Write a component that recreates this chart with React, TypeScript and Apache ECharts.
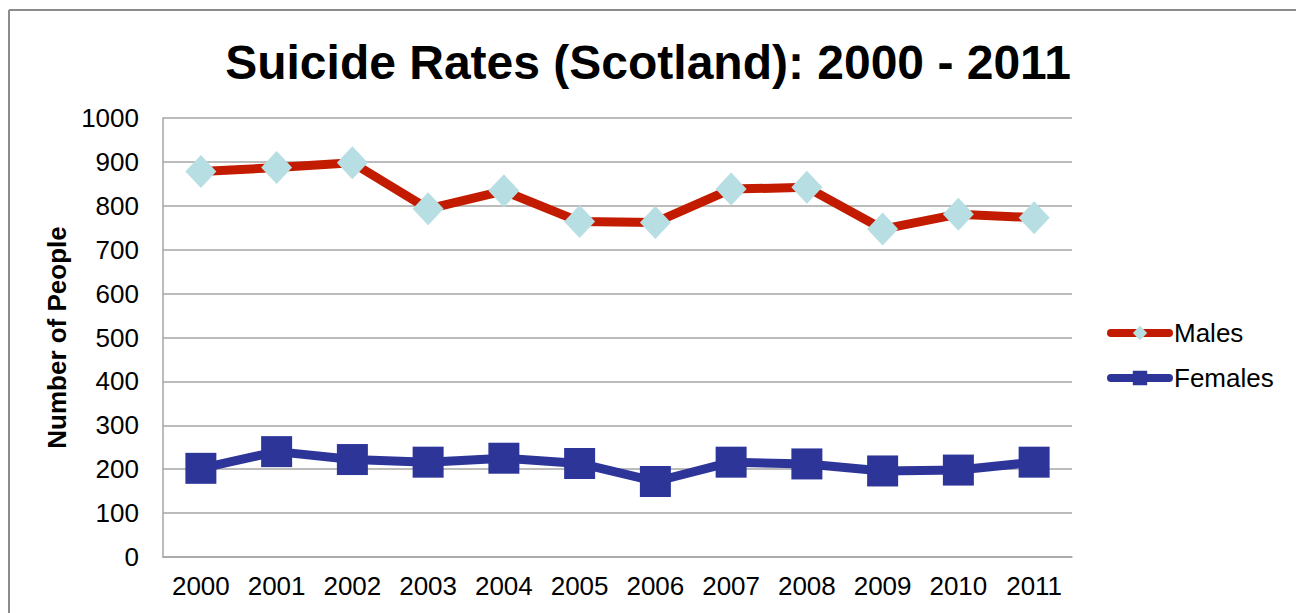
import React, { useEffect, useRef } from "react";
import * as echarts from "echarts";

const years = ["2000", "2001", "2002", "2003", "2004", "2005", "2006", "2007", "2008", "2009", "2010", "2011"];
const males = [878, 887, 898, 793, 834, 764, 762, 838, 842, 747, 781, 773];
const females = [202, 240, 222, 216, 225, 213, 172, 216, 212, 196, 198, 216];

const FONT = "'Liberation Sans', Arial, sans-serif";

export default function App() {
  const ref = useRef<HTMLDivElement>(null);
  useEffect(() => {
    if (!ref.current) return;
    const chart = echarts.init(ref.current, null, { renderer: "svg" });
    chart.setOption({
      animation: false,
      backgroundColor: "#ffffff",
      title: {
        text: "Suicide Rates (Scotland): 2000 - 2011",
        left: "center",
        top: 33,
        textStyle: { fontFamily: FONT, fontSize: 48, fontWeight: "bold", color: "#000" },
      },
      graphic: [
        {
          type: "line",
          shape: { x1: 9, y1: 10, x2: 1296, y2: 10 },
          style: { stroke: "#8c8c8c", lineWidth: 2 },
          silent: true,
        },
        {
          type: "line",
          shape: { x1: 9, y1: 10, x2: 9, y2: 613 },
          style: { stroke: "#8c8c8c", lineWidth: 2 },
          silent: true,
        },
      ],
      legend: {
        orient: "vertical",
        left: 1102,
        top: 315,
        itemWidth: 58,
        itemHeight: 18,
        itemGap: 19,
        lineStyle: { width: 8, cap: "round" },
        textStyle: { fontFamily: FONT, fontSize: 26, color: "#000" },
        data: ["Males", "Females"],
      },
      grid: { left: 163, top: 118, right: 224, bottom: 56, containLabel: false },
      xAxis: {
        type: "category",
        data: years,
        boundaryGap: true,
        axisLine: { show: true, lineStyle: { color: "#a6a6a6", width: 1.5 } },
        axisTick: { show: false },
        axisLabel: { fontFamily: FONT, fontSize: 26, color: "#000", margin: 16 },
      },
      yAxis: {
        type: "value",
        min: 0,
        max: 1000,
        interval: 100,
        name: "Number of People",
        nameLocation: "middle",
        nameGap: 89,
        nameTextStyle: { fontFamily: FONT, fontSize: 26, fontWeight: "bold", color: "#000" },
        axisLine: { show: true, lineStyle: { color: "#a6a6a6", width: 1.5 } },
        axisTick: { show: false },
        splitLine: { show: true, lineStyle: { color: "#a6a6a6", width: 1.5 } },
        axisLabel: { fontFamily: FONT, fontSize: 26, color: "#000", margin: 24, formatter: (v: number) => String(v) },
      },
      series: [
        {
          name: "Males",
          type: "line",
          data: males,
          symbol: "diamond",
          symbolSize: [31, 33],
          lineStyle: { color: "#C31B00", width: 9 },
          itemStyle: { color: "#B7DEE2" },
          color: "#C31B00",
          z: 3,
        },
        {
          name: "Females",
          type: "line",
          data: females,
          symbol: "rect",
          symbolSize: [31, 31],
          lineStyle: { color: "#2E3599", width: 9 },
          itemStyle: { color: "#2E3599" },
          color: "#2E3599",
          z: 3,
        },
      ],
    });
    return () => chart.dispose();
  }, []);
  return <div ref={ref} style={{ position: "fixed", left: 0, top: 0, width: 1296, height: 613 }} />;
}
